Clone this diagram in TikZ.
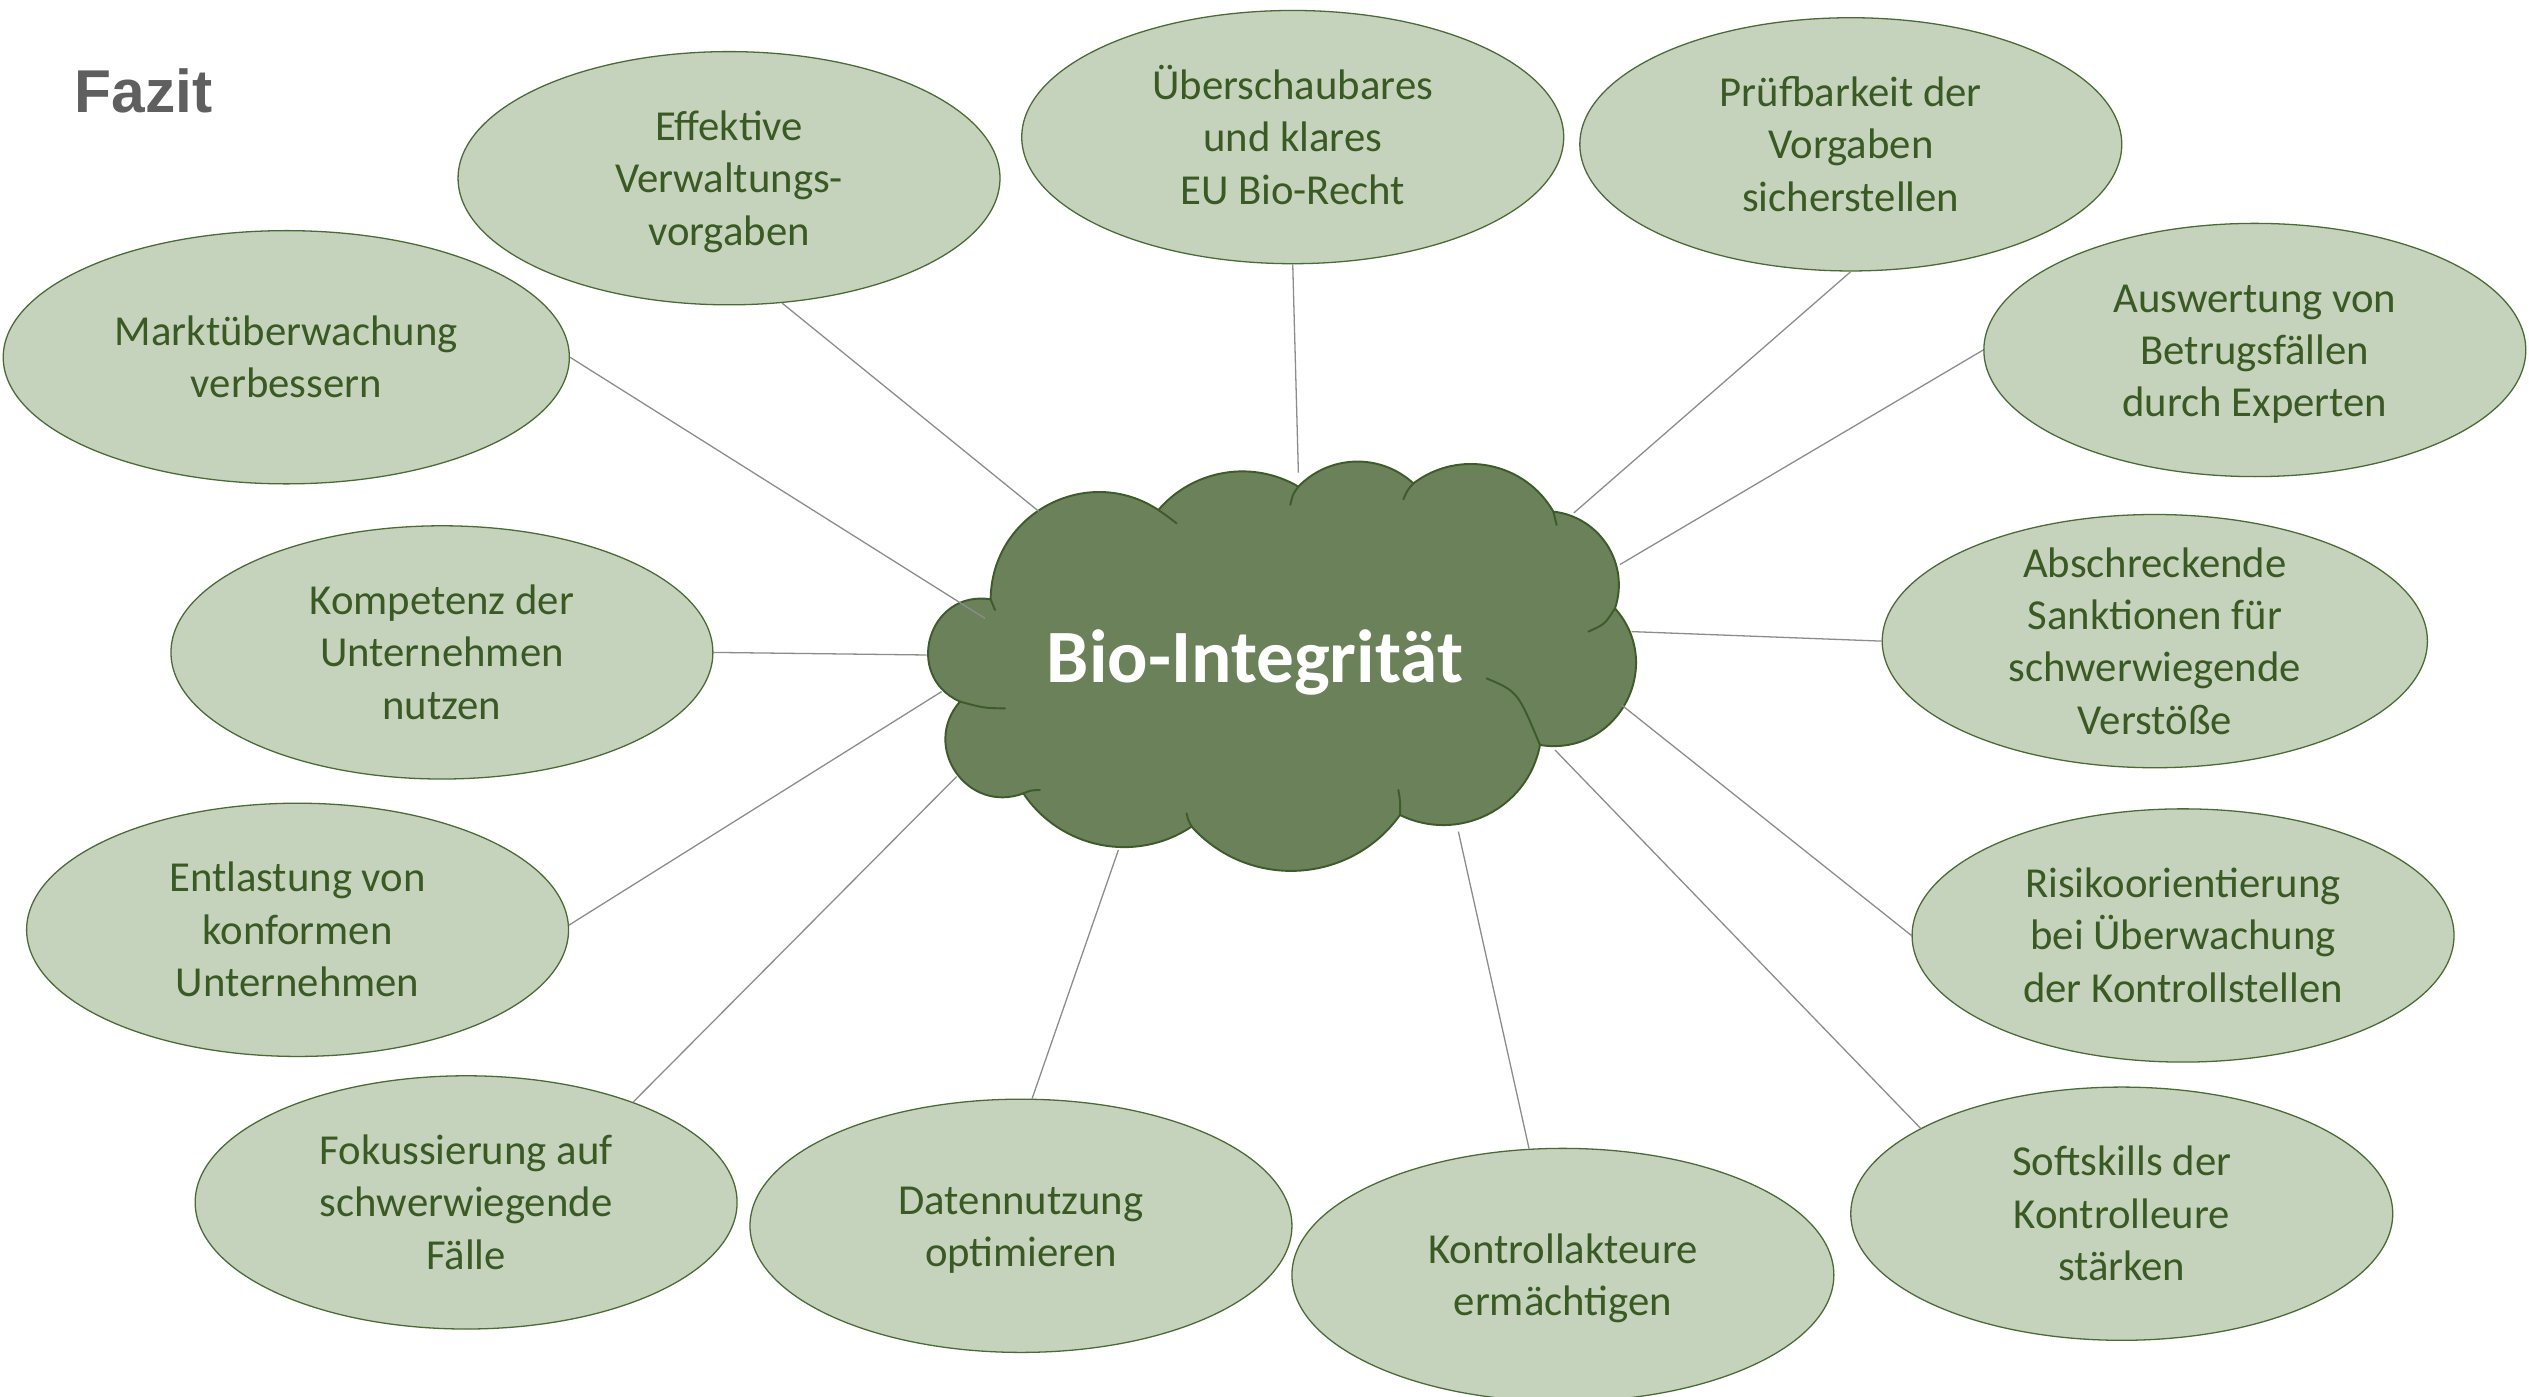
\documentclass[tikz,border=0pt]{standalone}
\usepackage{fontspec}
\setmainfont{Carlito}
\newfontfamily\titlefont{Liberation Sans}
\usetikzlibrary{shapes.geometric,calc}
\definecolor{bubblefill}{HTML}{C6D3BC}
\definecolor{bubbleline}{HTML}{4A6B35}
\definecolor{bubbletext}{HTML}{3A5A23}
\definecolor{cloudfill}{HTML}{6A815A}
\definecolor{cloudline}{HTML}{3D5C2A}
\definecolor{spoke}{HTML}{8C8C8C}
\definecolor{titlegray}{HTML}{5F5F5F}
% uniform height and depth for the first and last caption line
\newcommand\bstrut{\rule[-6.5pt]{0pt}{31pt}}
\begin{document}
\begin{tikzpicture}[x=1pt,y=-1pt,
  bubble/.style={ellipse, draw=bubbleline, line width=0.8pt, fill=bubblefill,
    minimum width=336pt, minimum height=157pt, inner sep=0pt},
  caption/.style={align=center, inner sep=0pt, text=bubbletext,
    font=\fontsize{26.5}{32.5}\selectfont},
  spokeline/.style={draw=spoke, line width=0.8pt},
  cloudedge/.style={draw=cloudline, line width=1.2pt, line cap=round}]
\useasboundingbox[fill=white] (0,0) rectangle (1568,866);

% title
\node[anchor=base west, inner sep=0pt, text=titlegray,
  font=\titlefont\bfseries\fontsize{37.5}{40}\selectfont] (title) at (46,70) {Fazit};

% surrounding ellipses
\node[bubble] (e1) at (452,110.5) {};
\node[bubble] (e2) at (801.5,85) {};
\node[bubble] (e3) at (1147.5,89.5) {};
\node[bubble, minimum width=351pt] (e4) at (177.5,221.5) {};
\node[bubble] (e5) at (1398,217) {};
\node[bubble] (e6) at (274,404.5) {};
\node[bubble, minimum width=338pt] (e7) at (1336,397.5) {};
\node[bubble] (e8) at (184.5,576.5) {};
\node[bubble] (e9) at (1353.5,580) {};
\node[bubble] (e10) at (289,745.5) {};
\node[bubble] (e11) at (633,760) {};
\node[bubble] (e12) at (969,790.5) {};
\node[bubble] (e13) at (1315.5,752.5) {};

% their captions
\node[caption] (t1) at (e1) {\bstrut Effektive\\Verwaltungs-\\vorgaben\bstrut};
\node[caption] (t2) at (e2) {\bstrut Überschaubares\\und klares\\EU Bio-Recht\bstrut};
\node[caption] (t3) at (e3) {\bstrut Prüfbarkeit der\\Vorgaben\\sicherstellen\bstrut};
\node[caption] (t4) at (e4) {\bstrut Marktüberwachung\\verbessern\bstrut};
\node[caption] (t5) at (e5) {\bstrut Auswertung von\\Betrugsfällen\\durch Experten\bstrut};
\node[caption] (t6) at (e6) {\bstrut Kompetenz der\\Unternehmen\\nutzen\bstrut};
\node[caption] (t7) at (e7) {\bstrut Abschreckende\\Sanktionen für\\schwerwiegende\\Verstöße\bstrut};
\node[caption] (t8) at (e8) {\bstrut Entlastung von\\konformen\\Unternehmen\bstrut};
\node[caption] (t9) at (e9) {\bstrut Risikoorientierung\\bei Überwachung\\der Kontrollstellen\bstrut};
\node[caption] (t10) at (e10) {\bstrut Fokussierung auf\\schwerwiegende\\Fälle\bstrut};
\node[caption] (t11) at (e11) {\bstrut Datennutzung\\optimieren\bstrut};
\node[caption] (t12) at (e12) {\bstrut Kontrollakteure\\ermächtigen\bstrut};
\node[caption] (t13) at (e13) {\bstrut Softskills der\\Kontrolleure\\stärken\bstrut};

% cloud outline junctions
\coordinate (Ja) at (614.2,371.6);
\coordinate (Jk) at (718.2,316.2);
\coordinate (Jj) at (805.0,301.7);
\coordinate (Ji) at (876.3,299.7);
\coordinate (Jh) at (963.1,317.2);
\coordinate (Jg) at (1001.3,377.2);
\coordinate (Jf) at (954.8,461.9);
\coordinate (Je) at (868.0,505.3);
\coordinate (Jd) at (738.8,512.5);
\coordinate (Jc) at (634.5,491.9);
\coordinate (Jb) at (595.2,435.0);

% cloud: one circular puff between each pair of junctions
\path[fill=cloudfill, cloudedge]
  (Ja) .. controls (614.7,318.5) and (673.9,287.0) .. (Jk)
       .. controls (739.8,291.0) and (776.4,284.9) .. (Jj)
       .. controls (824.3,281.8) and (855.9,280.9) .. (Ji)
       .. controls (904.6,278.2) and (945.3,286.4) .. (Jh)
       .. controls (992.0,320.5) and (1010.6,349.6) .. (Jg)
       .. controls (1033.2,413.3) and (1002.4,469.5) .. (Jf)
       .. controls (947.3,501.5) and (904.2,523.0) .. (Je)
       .. controls (837.1,548.4) and (774.3,551.9) .. (Jd)
       .. controls (704.3,535.6) and (657.6,526.4) .. (Jc)
       .. controls (599.8,505.0) and (570.7,462.9) .. (Jb)
       .. controls (559.6,419.0) and (575.7,365.4) .. (Ja) -- cycle;

% inner puff arcs
\draw[cloudedge] (Ja) .. controls (615.5,374.5) .. (616.9,378.2);
\draw[cloudedge] (Jk) .. controls (723,319.5) .. (729.5,324.5);
\draw[cloudedge] (Jj) .. controls (801.5,306.5) .. (800,313);
\draw[cloudedge] (Ji) .. controls (872.5,304) .. (870.1,309.6);
\draw[cloudedge] (Jh) .. controls (964.6,321) .. (965.1,325.5);
\draw[cloudedge] (Jg) .. controls (995,387) .. (984.8,391.6);
\draw[cloudedge] (Jf) .. controls (941,428.8) .. (921.7,420.6);
\draw[cloudedge] (Je) .. controls (868.2,497) .. (867,489.8);
\draw[cloudedge] (Jd) .. controls (736.5,508) .. (735.7,504.3);
\draw[cloudedge] (Jc) .. controls (639,490) .. (644.8,489.8);
\draw[cloudedge] (Jb) .. controls (609.9,439) .. (623.1,439.2);

\node[text=white, font=\bfseries\fontsize{46.7}{50}\selectfont, anchor=base,
  inner sep=0pt] (bio) at (778,423) {Bio-Integrität};

% cloud-side ends of the spokes
\coordinate (c1) at (644,317);
\coordinate (c2) at (805,293);
\coordinate (c3) at (975.8,318);
\coordinate (c4) at (610.7,383.4);
\coordinate (c5) at (1004.4,350);
\coordinate (c6) at (574.5,406.1);
\coordinate (c7) at (1011.6,391.6);
\coordinate (c8) at (583.8,428.8);
\coordinate (c9) at (1005.4,437.1);
\coordinate (c10) at (593.1,481.5);
\coordinate (c11) at (693.4,527);
\coordinate (c12) at (904.2,515.6);
\coordinate (c13) at (964.1,465);

\draw[spokeline] (e1.-67) -- (c1);
\draw[spokeline] (e2.south) -- (c2);
\draw[spokeline] (e3.south) -- (c3);
\draw[spokeline] (e4.east) -- (c4);
\draw[spokeline] (e5.west) -- (c5);
\draw[spokeline] (e6.east) -- (c6);
\draw[spokeline] (e7.west) -- (c7);
\draw[spokeline] (e8.1.5) -- (c8);
\draw[spokeline] (e9.west) -- (c9);
\draw[spokeline] (e10.31) -- (c10);
\draw[spokeline] (e11.85) -- (c11);
\draw[spokeline] (e12.105) -- (c12);
\draw[spokeline] (e13.157) -- (c13);
\end{tikzpicture}
\end{document}
